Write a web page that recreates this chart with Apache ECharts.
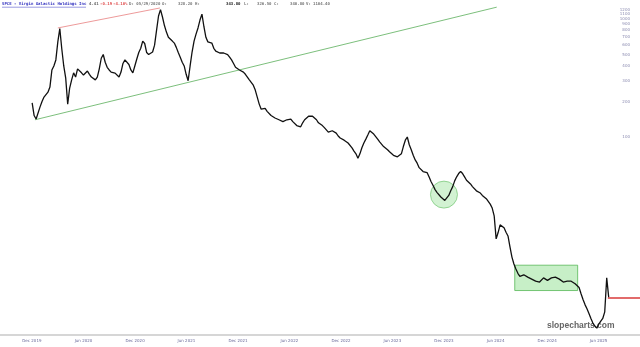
<!DOCTYPE html>
<html>
<head>
<meta charset="utf-8">
<script src="https://cdn.jsdelivr.net/npm/echarts@6/dist/echarts.min.js"></script>
<style>html,body{margin:0;padding:0;background:#fff}#c{width:640px;height:347px}</style>
</head>
<body>
<div id="c"></div>
<script>
// ---- data ----
const startDate = '2019-12-02';            // first weekly bar
const weeklyClose = [
195,152,142,147,180,200,218,225,240,265,
370,400,450,640,830,560,400,315,190,260,
305,350,322,378,370,350,335,335,362,340,
322,315,305,322,378,465,500,430,390,370,
355,355,348,340,322,355,420,450,458,412,
370,350,400,458,520,565,650,620,520,500,
490,525,600,800,1060,1200,1040,880,775,700,
680,650,625,575,520,475,430,400,340,300,
400,525,650,745,840,980,1100,860,700,640,
625,625,565,535,525,515,515,515,500,500,
475,450,420,390,378,370,362,355,340,322,
305,295,275,250,218,190,172,172,175,165,
160,152,147,145,145,140,137,135,135,140,
142,142,135,130,125,122,122,132,140,145,
150,152,150,145,140,132,128,125,120,116,
110,108,113,116,108,102,98,96,94,91,
89,86,81,76,72,66,72,81,89,96,
104,113,116,106,102,96,91,88,83,81,
78,75,73,70,68,68,66,72,83,94,
100,86,78,70,64,60,55,54,51,50,
50,46,42,39,36,34,33,31,30,29,
28,32,35,38,42.5,46,49,51,49,46,
43,42,40,38,37,35,34,33.5,32,31,
30,28.5,27,25,21.5,13.7,15.5,18,17.5,17,
15.6,14.5,11.7,9.6,8.4,7.6,7.0,6.6,6.6,6.8,
6.8,6.5,6.4,6.25,6.1,6.0,5.9,5.9,6.1,6.4,
6.4,6.1,6.1,6.4,6.5,6.5,6.4,6.25,6.1,5.9,
5.9,6.0,6.1,6.0,5.8,5.7,5.6,5.3,4.7,4.2,
3.8,3.5,3.2,2.9,2.65,2.5,2.4,2.6,2.75,2.9,
3.3,6.4,4.4
];
const yTicks = [100,200,300,400,500,600,700,800,900,1000,1100,1200];
const xTickDates = ['2019-12-01','2020-06-01','2020-12-01','2021-06-01','2021-12-01','2022-06-01',
                    '2022-12-01','2023-06-01','2023-12-01','2024-06-01','2024-12-01','2025-06-01'];
const axisRange = {xMin:'2019-08-10', xMax:'2025-10-26', yMin:2.1, yMax:1449};
const redTrend = [['2020-03-02', 840], ['2021-02-27', 1240]];
const greenTrend = [['2019-12-12', 140], ['2024-06-05', 1260]];
const lastPriceLine = {from:'2025-07-04', price:4.35};
const boxZone = {from:'2024-08-08', to:'2025-03-19', low:5.0, high:8.2};
const circleZone = {date:'2023-12-01', price:32.5};
const header = {
  title:'SPCE - Virgin Galactic Holdings Inc', last:'4.41', chg:'-0.19', pct:'-4.10%',
  date:'D: 05/29/2020', o:'328.20', h:'343.80', l:'326.50', c:'340.80', v:'1104.40'
};

// ---- build ----
const DAY = 86400000;
const t0 = new Date(startDate + 'T00:00:00Z').getTime();
const series = weeklyClose.map((v, i) => [t0 + i * 7 * DAY, v]);
const ts = s => new Date(s + 'T00:00:00Z').getTime();
const MONTHS = ['Jan','Feb','Mar','Apr','May','Jun','Jul','Aug','Sep','Oct','Nov','Dec'];

const chart = echarts.init(document.getElementById('c'), null, {renderer:'canvas'});
const mono = '"DejaVu Sans Mono", monospace';
const hdr = (x, text, fill, weight) => ({type:'text', left:x, top:2,
  style:{text:text, fill:fill, font:(weight||'bold') + ' 4px ' + mono}});

chart.setOption({
  animation:false,
  backgroundColor:'#ffffff',
  grid:{left:0, right:0, top:0, bottom:12},
  xAxis:{
    type:'value', min:ts(axisRange.xMin), max:ts(axisRange.xMax),
    axisLine:{show:true, onZero:false, lineStyle:{color:'#c8c8c8', width:1.5}},
    axisTick:{show:false},
    splitLine:{show:false},
    axisLabel:{
      customValues: xTickDates.map(ts),
      margin:4, fontSize:4, color:'#6a6a9a', fontFamily:'DejaVu Sans',
      formatter: v => { const d = new Date(v); return MONTHS[d.getUTCMonth()] + ' ' + d.getUTCFullYear(); }
    }
  },
  yAxis:{
    type:'log', position:'right', min:axisRange.yMin, max:axisRange.yMax,
    axisLine:{show:false}, axisTick:{show:false}, splitLine:{show:false},
    axisLabel:{
      inside:true, customValues: yTicks, margin:10, fontSize:4, color:'#8a8ab0',
      fontFamily:'DejaVu Sans', align:'right', formatter: v => String(Math.round(v))
    }
  },
  series:[
    {
      type:'line', data:series, showSymbol:false, symbol:'none',
      lineStyle:{color:'#111111', width:1.3}, z:5,
      markLine:{
        silent:true, symbol:'none', label:{show:false},
        data:[
          [{coord:[ts(redTrend[0][0]), redTrend[0][1]], lineStyle:{color:'#e88080', width:0.8, type:'solid'}},
           {coord:[ts(redTrend[1][0]), redTrend[1][1]]}],
          [{coord:[ts(greenTrend[0][0]), greenTrend[0][1]], lineStyle:{color:'#5aae5a', width:0.8, type:'solid'}},
           {coord:[ts(greenTrend[1][0]), greenTrend[1][1]]}],
          [{coord:[ts(lastPriceLine.from), lastPriceLine.price], lineStyle:{color:'#d83a3a', width:1.5, type:'solid'}},
           {coord:[ts(axisRange.xMax), lastPriceLine.price]}]
        ]
      },
      markArea:{
        silent:true,
        itemStyle:{color:'rgba(130,220,130,0.45)', borderColor:'#55b855', borderWidth:0.8},
        data:[[{coord:[ts(boxZone.from), boxZone.high]}, {coord:[ts(boxZone.to), boxZone.low]}]]
      }
    },
    {
      type:'scatter', data:[[ts(circleZone.date), circleZone.price]], symbol:'circle', symbolSize:27,
      itemStyle:{color:'rgba(130,220,130,0.45)', borderColor:'#66c066', borderWidth:0.8}, z:2, silent:true
    }
  ],
  graphic:[
    hdr(2, header.title, '#3434c0'),
    {type:'line', shape:{x1:2, y1:7.2, x2:86, y2:7.2}, style:{stroke:'#3434c0', lineWidth:0.5}},
    hdr(89, header.last, '#666'),
    hdr(100, header.chg, '#e05050'),
    hdr(113, header.pct, '#e05050'),
    hdr(129, header.date, '#777'),
    hdr(162, 'O:', '#777'),
    hdr(178, header.o, '#777'),
    hdr(195, 'H:', '#777'),
    hdr(226, header.h, '#222'),
    hdr(244, 'L:', '#777'),
    hdr(257, header.l, '#777'),
    hdr(274, 'C:', '#777'),
    hdr(290, header.c, '#777'),
    hdr(306, 'V:', '#777'),
    hdr(313, header.v, '#777'),
    {type:'text', left:547, top:321, style:{text:'slopecharts.com', fill:'#666', font:'bold 8.5px "Liberation Sans"'}}
  ]
});
</script>
</body>
</html>
